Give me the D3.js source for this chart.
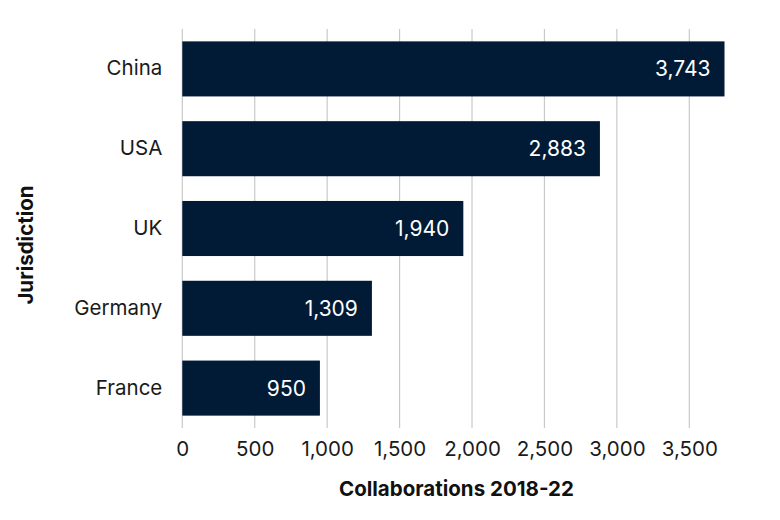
<!DOCTYPE html>
<html>
<head>
<meta charset="utf-8">
<script src="https://cdn.jsdelivr.net/npm/d3@7"></script>
<style>
  html, body { margin: 0; padding: 0; background: #fff; }
  svg { display: block; font-family: Inter, "IBM Plex Sans", Roboto, sans-serif; }
</style>
</head>
<body>
<svg id="chart" width="780" height="520"></svg>
<script>
const categories = ["China", "USA", "UK", "Germany", "France"];
const values = [3743, 2883, 1940, 1309, 950];
const xTicks = [0, 500, 1000, 1500, 2000, 2500, 3000, 3500];
const xTitle = "Collaborations 2018-22";
const yTitle = "Jurisdiction";

const svg = d3.select("#chart");
const mLeft = 182.3, mTop = 29, mBottom = 428;
const pxPerUnit = (689.3 - 182.3) / 3500;
const domainMax = 3785;
const mRight = mLeft + domainMax * pxPerUnit;

const x = d3.scaleLinear().domain([0, domainMax]).range([mLeft, mRight]);
const y = d3.scaleBand().domain(categories).range([mTop, mBottom]).paddingInner(0.31).paddingOuter(0.155);

// gridlines
svg.append("g").selectAll("line").data(xTicks).join("line")
  .attr("x1", d => x(d)).attr("x2", d => x(d))
  .attr("y1", mTop).attr("y2", mBottom)
  .attr("stroke", "#c9c9c9").attr("stroke-width", 1.2);

// bars
const data = categories.map((c, i) => ({ c, v: values[i] }));
svg.append("g").selectAll("rect").data(data).join("rect")
  .attr("x", x(0)).attr("y", d => y(d.c))
  .attr("width", d => x(d.v) - x(0)).attr("height", y.bandwidth())
  .attr("fill", "#011b36");

// value labels
const fmt = d3.format(",");
svg.append("g").selectAll("text").data(data).join("text")
  .attr("x", d => x(d.v) - 14).attr("y", d => y(d.c) + y.bandwidth() / 2)
  .attr("dy", "0.36em").attr("text-anchor", "end")
  .attr("fill", "#ffffff").attr("font-size", 21)
  .text(d => fmt(d.v));

// y axis labels
const yAxis = d3.axisLeft(y).tickSize(0).tickPadding(20);
const gy = svg.append("g").attr("transform", `translate(${mLeft},0)`).call(yAxis);
gy.select(".domain").remove();
gy.selectAll("text").attr("font-size", 20.5).attr("fill", "#1a1a1a");
gy.attr("font-family", null).attr("font-size", null);

// x axis labels
const xAxis = d3.axisBottom(x).tickValues(xTicks).tickFormat(fmt).tickSize(0).tickPadding(13);
const gx = svg.append("g").attr("transform", `translate(0,${mBottom})`).call(xAxis);
gx.select(".domain").remove();
gx.selectAll("text").attr("font-size", 20.5).attr("fill", "#1a1a1a");
gx.attr("font-family", null).attr("font-size", null);

// titles
svg.append("text").attr("x", (mLeft + mRight) / 2).attr("y", 496)
  .attr("text-anchor", "middle").attr("font-weight", "bold").attr("font-size", 20.5)
  .attr("fill", "#111").text(xTitle);
svg.append("text").attr("transform", `translate(33,245) rotate(-90)`)
  .attr("text-anchor", "middle").attr("font-weight", "bold").attr("font-size", 20.5)
  .attr("fill", "#111").text(yTitle);
</script>
</body>
</html>
